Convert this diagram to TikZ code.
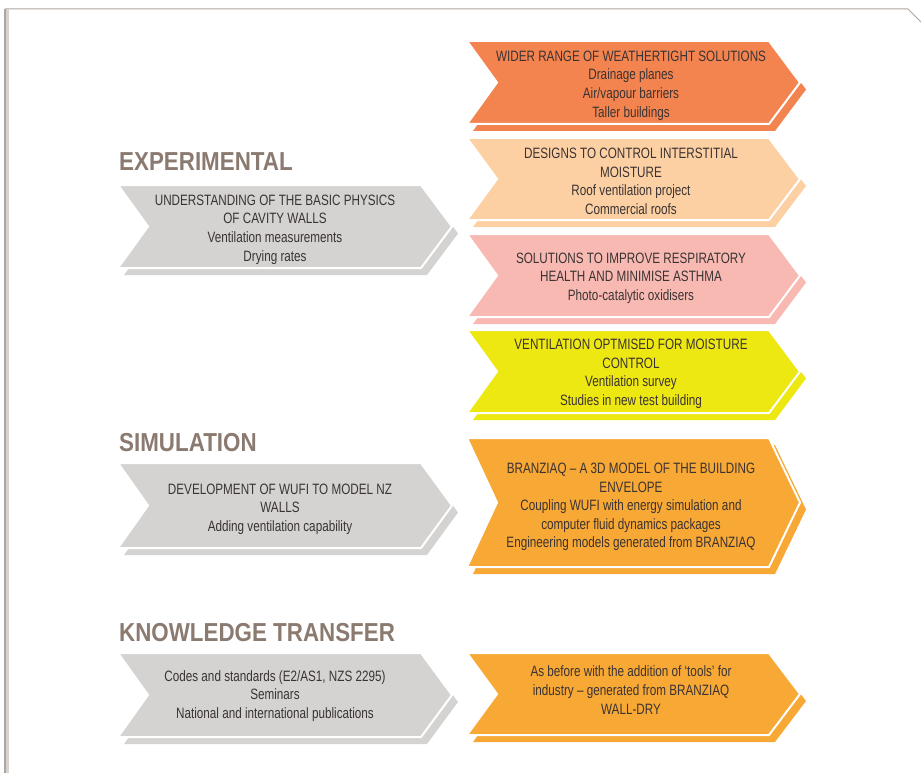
\documentclass[tikz,border=0pt]{standalone}
\usepackage{fontspec}
\setmainfont{Liberation Sans}[FakeStretch=0.78]
\newfontfamily\headfont{Liberation Sans}[FakeStretch=0.86]
\usepackage{tikz}

\definecolor{framegray}{HTML}{ADA5A0}
\definecolor{headbrown}{HTML}{8B7A70}
\definecolor{txtgray}{HTML}{3B3333}
\definecolor{chevgray}{HTML}{D4D3D2}
\definecolor{chevorange}{HTML}{F3844F}
\definecolor{chevpeach}{HTML}{FCD0A3}
\definecolor{chevpink}{HTML}{F7B9B2}
\definecolor{chevyellow}{HTML}{EEE812}
\definecolor{chevamber}{HTML}{F8A834}

% chevron with its offset shadow: left x, top y, tip x, bottom y, colour
\newcommand{\chev}[5]{%
	\fill[#5, shift={(6,7)}] (#1,#2) -- ({#3-31},#2) -- (#3,{(#2+#4)/2}) -- ({#3-31},#4) -- (#1,#4) -- ({#1+30},{(#2+#4)/2}) -- cycle;
	\filldraw[fill=#5, draw=white, line width=2] (#1,#2) -- ({#3-31},#2) -- (#3,{(#2+#4)/2}) -- ({#3-31},#4) -- (#1,#4) -- ({#1+30},{(#2+#4)/2}) -- cycle;
}

\begin{document}
\begin{tikzpicture}[x=1pt, y=-1pt,
		boxtext/.style={align=center, text=txtgray, font=\fontsize{15}{18.6}\selectfont},
		heading/.style={anchor=base west, inner sep=0, text=headbrown, font=\headfont\bfseries\fontsize{26}{30}\selectfont}]
			
			\useasboundingbox (0,0) rectangle (921,773);
			
			% page frame
			\draw[framegray, line width=1] (5,9) -- (908,9) -- (921,22);
			\draw[framegray!50, line width=3] (7,9) -- (7,773);
			\draw[framegray, line width=2] (5,9) -- (5,773);
			
			% headings
			\node[heading] (exptitle) at (119,171) {EXPERIMENTAL};
			\node[heading] (simtitle) at (119,451) {SIMULATION};
			\node[heading] (kttitle) at (119,641) {KNOWLEDGE TRANSFER};
			
			% left column
			\chev{118}{185}{452}{268}{chevgray}
			\chev{118}{463}{452}{548}{chevgray}
			\chev{118}{653}{452}{737}{chevgray}
			
			\node[boxtext] (expbox) at (275,229.5) {UNDERSTANDING OF THE BASIC PHYSICS\\OF CAVITY WALLS\\Ventilation measurements\\Drying rates};
			\node[boxtext] (simbox) at (280,509) {DEVELOPMENT OF WUFI TO MODEL NZ\\WALLS\\Adding ventilation capability};
			\node[boxtext] (ktbox) at (275,696) {Codes and standards (E2/AS1, NZS 2295)\\Seminars\\National and international publications};
			
			% right column
			\chev{467}{41}{800}{124}{chevorange}
			\chev{467}{138}{800}{220}{chevpeach}
			\chev{467}{234}{800}{317}{chevpink}
			\chev{467}{330}{800}{413}{chevyellow}
			\chev{467}{438}{800}{567}{chevamber}
			\chev{467}{653}{800}{735}{chevamber}
			
			\node[boxtext] (weather) at (631,85.5) {WIDER RANGE OF WEATHERTIGHT SOLUTIONS\\Drainage planes\\Air/vapour barriers\\Taller buildings};
			\node[boxtext] (interst) at (631,181.5) {DESIGNS TO CONTROL INTERSTITIAL\\MOISTURE\\Roof ventilation project\\Commercial roofs};
			\node[boxtext] (health) at (631,278) {SOLUTIONS TO IMPROVE RESPIRATORY\\HEALTH AND MINIMISE ASTHMA\\Photo-catalytic oxidisers};
			\node[boxtext] (ventil) at (631,374) {VENTILATION OPTMISED FOR MOISTURE\\CONTROL\\Ventilation survey\\Studies in new test building};
			\node[boxtext] (branz) at (631,507) {BRANZIAQ \textendash{} A 3D MODEL OF THE BUILDING\\ENVELOPE\\Coupling WUFI with energy simulation and\\computer fluid dynamics packages\\Engineering models generated from BRANZIAQ};
			\node[boxtext] (tools) at (631,690) {As before with the addition of ‘tools’ for\\industry \textendash{} generated from BRANZIAQ\\WALL-DRY};
			
		\end{tikzpicture}
\end{document}
